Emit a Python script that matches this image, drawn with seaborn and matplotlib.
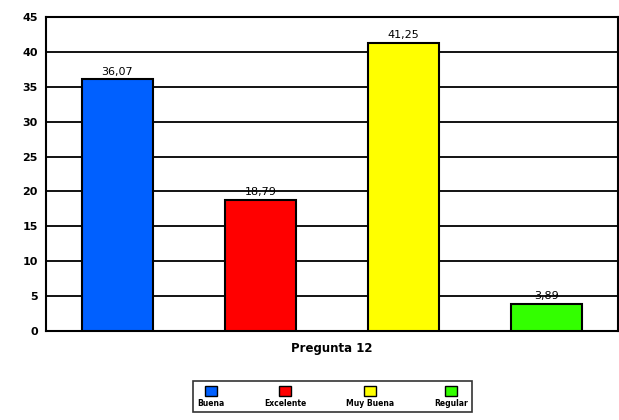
import matplotlib
matplotlib.use("Agg")
import matplotlib.pyplot as plt
import seaborn as sns
import pandas as pd
from matplotlib.offsetbox import VPacker
from matplotlib.patches import Patch

categorias = ["Buena", "Excelente", "Muy Buena", "Regular"]
porcentajes = [36.07, 18.79, 41.25, 3.89]
colores = ["#0060FF", "#FF0000", "#FFFF00", "#33FF00"]
ticks_y = [0, 5, 10, 15, 20, 25, 30, 35, 40, 45]

sns.set_theme(style="white")
plt.rcParams["font.family"] = ["DejaVu Sans"]
plt.rcParams["text.color"] = "black"
plt.rcParams["ytick.color"] = "black"
plt.rcParams["axes.labelcolor"] = "black"

df = pd.DataFrame({"categoria": categorias, "valor": porcentajes})

fig = plt.figure(figsize=(6.19, 4.20), dpi=100)
ax = fig.add_axes([0.0743, 0.212, 0.9237, 0.7475])

sns.barplot(data=df, x="categoria", y="valor", hue="categoria",
            palette=colores, saturation=1, width=0.5, edgecolor="black", linewidth=1.5,
            dodge=False, legend=False, ax=ax, zorder=3)

ax.set_ylim(0, 45)
ax.set_yticks(ticks_y)
ax.set_yticklabels([str(t) for t in ticks_y], fontsize=8, fontweight="bold")
ax.yaxis.grid(True, color="black", linewidth=1.3, zorder=0)
ax.set_axisbelow(True)
ax.set_xticks([])
ax.set_ylabel("")
ax.set_xlabel("Pregunta 12", fontsize=8.5, fontweight="bold", labelpad=8)
ax.tick_params(axis="y", length=0, pad=6)
for s in ax.spines.values():
    s.set_color("black")
    s.set_linewidth(1.5)

for cont in ax.containers:
    ax.bar_label(cont, labels=[f"{v:.2f}".replace(".", ",") for v in cont.datavalues],
                 fontsize=8, padding=2, color="black")

# Legend: one column per category, square swatch above its label
handles = [Patch(facecolor=c, edgecolor="black", linewidth=1.0) for c in colores]
leg = fig.legend(handles, categorias, loc="upper center", bbox_to_anchor=(0.537, 0.092),
                 ncol=4, fontsize=5.5, frameon=True, fancybox=False,
                 handlelength=1.6, handleheight=1.6, columnspacing=5.2,
                 borderpad=0.6, borderaxespad=0)
leg.get_frame().set_edgecolor("black")
leg.get_frame().set_linewidth(1.2)
for t in leg.get_texts():
    t.set_fontweight("bold")
for col in leg._legend_handle_box.get_children():
    col._children = [VPacker(pad=0, sep=2, align="center", children=item.get_children())
                     for item in col.get_children()]

fig.savefig("out.png", dpi=100)
